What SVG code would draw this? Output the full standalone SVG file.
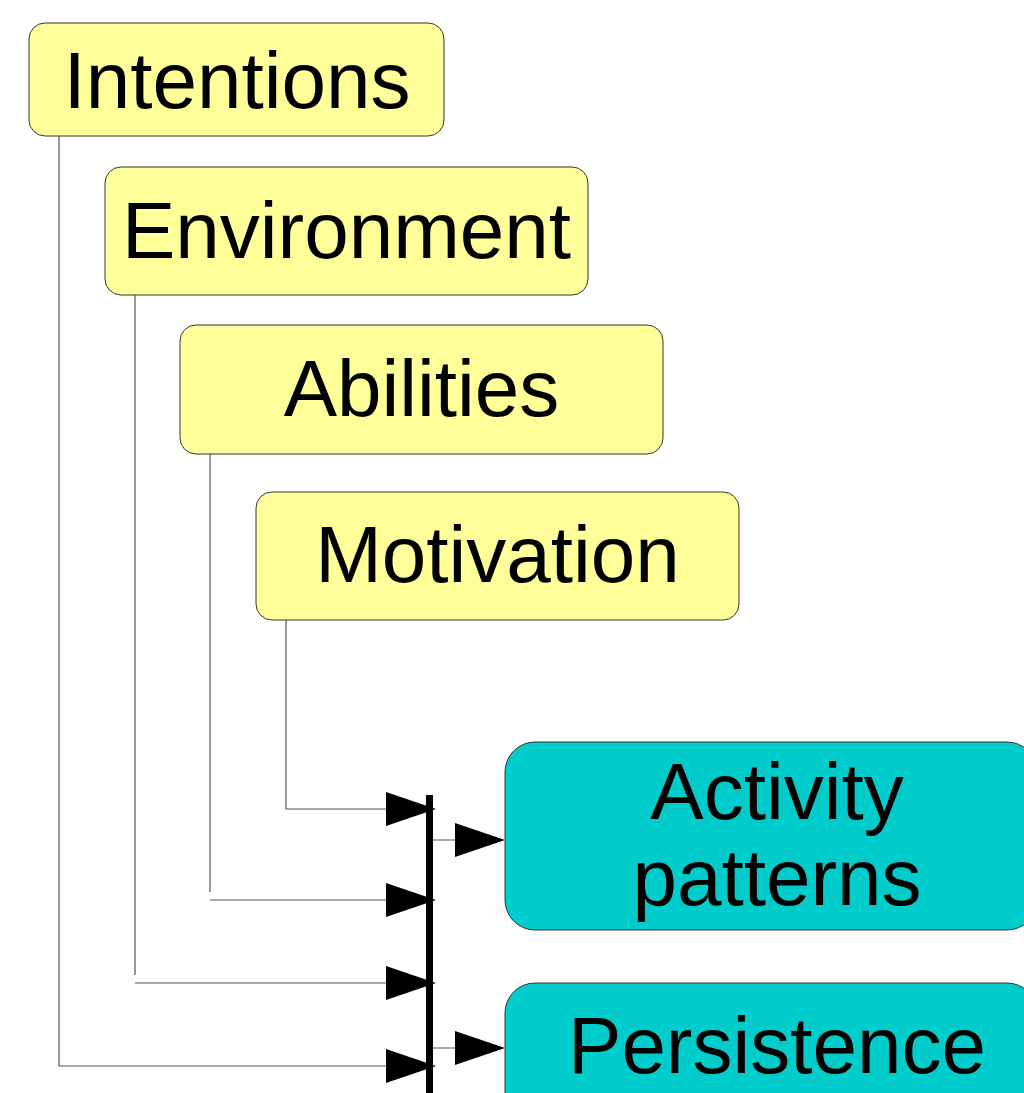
<svg xmlns="http://www.w3.org/2000/svg" width="1024" height="1093" viewBox="0 0 1024 1093">
<style>
.cause rect{fill:#ffff99;stroke:#333;stroke-width:1}
.effect rect{fill:#00cccc;stroke:#333;stroke-width:1}
text{font-family:"Liberation Sans",Arial,sans-serif;font-size:80px;fill:#000;text-anchor:middle}
.wire{fill:none;stroke:#555;stroke-width:1.2}
.head{fill:#000}
</style>
<defs>
<polygon id="ah" points="0,-17 50,0 0,17"/>
</defs>
<g id="intentions" class="cause"><rect x="29" y="23" width="415" height="113" rx="16"/><text x="237" y="108">Intentions</text></g>
<g id="environment" class="cause"><rect x="105" y="167" width="483" height="128" rx="16"/><text x="346.5" y="258">Environment</text></g>
<g id="abilities" class="cause"><rect x="180" y="325" width="483" height="129" rx="16"/><text x="421.5" y="416">Abilities</text></g>
<g id="motivation" class="cause"><rect x="256" y="492" width="483" height="128" rx="16"/><text x="497.5" y="582">Motivation</text></g>
<g id="activity" class="effect"><rect x="505" y="742" width="532" height="188" rx="30"/><text x="777" y="819">Activity</text><text x="777" y="905">patterns</text></g>
<g id="persistence" class="effect"><rect x="505" y="983" width="532" height="160" rx="30"/><text x="777" y="1073">Persistence</text></g>
<g id="connectors">
<rect x="426" y="795" width="7" height="300" fill="#000"/>
<path class="wire" d="M286,620 V809 H430"/>
<path class="wire" d="M210,454 V892 M210,900 H430"/>
<path class="wire" d="M135,295 V975 M135,983 H430"/>
<path class="wire" d="M59,136 V1066 H430"/>
<path class="wire" d="M433,840 H456 M433,1048 H456"/>
<use href="#ah" class="head" x="386" y="809"/>
<use href="#ah" class="head" x="386" y="900"/>
<use href="#ah" class="head" x="386" y="983"/>
<use href="#ah" class="head" x="386" y="1066"/>
<use href="#ah" class="head" x="455" y="840"/>
<use href="#ah" class="head" x="455" y="1048"/>
</g>
</svg>
